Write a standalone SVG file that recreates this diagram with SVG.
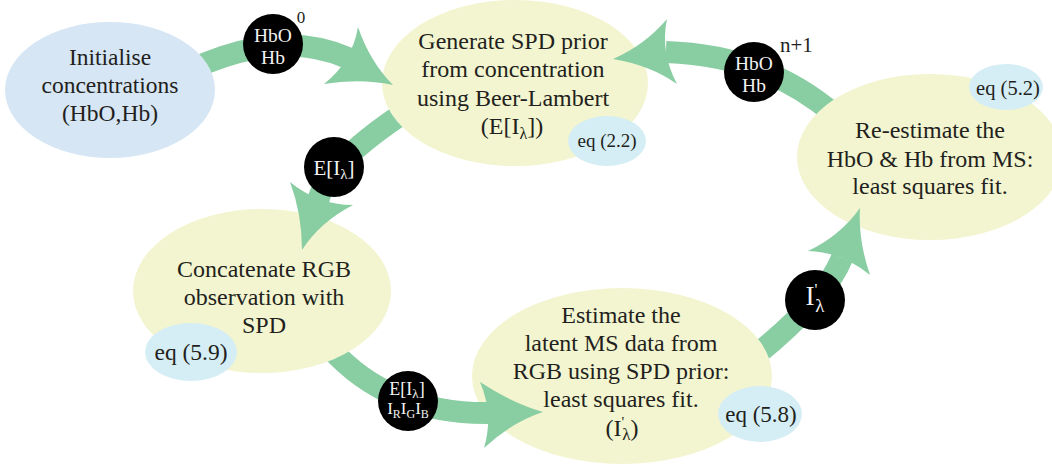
<svg xmlns="http://www.w3.org/2000/svg" width="1052" height="466" viewBox="0 0 1052 466">
<style>
.t{font-family:'Liberation Serif','Times New Roman',Times,'DejaVu Serif',serif;fill:#231f20;text-anchor:middle;font-size:24px}
.w{font-family:'Liberation Serif','Times New Roman',Times,'DejaVu Serif',serif;fill:#f2f2f2;text-anchor:middle}
.y{fill:#f2f5cf}
.b{fill:#d6e6f4}
.e{fill:#d5eef5}
.k{fill:#000}
.shaft{fill:none;stroke:#89cda2;stroke-width:22}
.head{fill:#89cda2}
</style>
<defs>
<clipPath id="cInit"><path clip-rule="evenodd" d="M0 0H1052V466H0Z M5 90a105 68 0 1 0 210 0a105 68 0 1 0 -210 0Z"/></clipPath>
<clipPath id="cGen"><path clip-rule="evenodd" d="M0 0H1052V466H0Z M382 83a133 83 0 1 0 266 0a133 83 0 1 0 -266 0Z"/></clipPath>
<clipPath id="cRe"><path clip-rule="evenodd" d="M0 0H1052V466H0Z M797 157a133 83 0 1 0 266 0a133 83 0 1 0 -266 0Z"/></clipPath>
<clipPath id="cCon"><path clip-rule="evenodd" d="M0 0H1052V466H0Z M133 291a129 82 0 1 0 258 0a129 82 0 1 0 -258 0Z"/></clipPath>
<clipPath id="cEst"><path clip-rule="evenodd" d="M0 0H1052V466H0Z M472 376a150 88 0 1 0 300 0a150 88 0 1 0 -300 0Z"/></clipPath>
</defs>

<g id="node-init">
<ellipse class="b" cx="110" cy="90" rx="105" ry="68"/>
<text class="t" style="font-size:23.5px" x="110" y="65">Initialise</text>
<text class="t" style="font-size:23.5px" x="110" y="93">concentrations</text>
<text class="t" style="font-size:23.5px" x="110" y="121">(HbO,Hb)</text>
</g>

<g id="node-generate">
<ellipse class="y" cx="515" cy="83" rx="133" ry="83"/>
<text class="t" x="513" y="49">Generate SPD prior</text>
<text class="t" x="513" y="77">from concentration</text>
<text class="t" x="513" y="106">using Beer-Lambert</text>
<text class="t" x="512" y="134">(E[I<tspan style="font-size:16px" dy="5">λ</tspan><tspan dy="-5">])</tspan></text>
</g>

<g id="node-reestimate">
<ellipse class="y" cx="930" cy="157" rx="133" ry="83"/>
<text class="t" x="930" y="138">Re-estimate the</text>
<text class="t" x="930" y="167">HbO &amp; Hb from MS:</text>
<text class="t" x="930" y="194">least squares fit.</text>
</g>

<g id="node-concatenate">
<ellipse class="y" cx="262" cy="291" rx="129" ry="82"/>
<text class="t" x="264" y="277">Concatenate RGB</text>
<text class="t" x="264" y="305">observation with</text>
<text class="t" x="264" y="333">SPD</text>
</g>

<g id="node-estimate">
<ellipse class="y" cx="622" cy="376" rx="150" ry="88"/>
<text class="t" x="621" y="323">Estimate the</text>
<text class="t" x="621" y="351">latent MS data from</text>
<text class="t" x="621" y="379">RGB using SPD prior:</text>
<text class="t" x="621" y="407">least squares fit.</text>
<text class="t" x="622" y="436">(I<tspan style="font-size:15px" dy="-9">'</tspan><tspan style="font-size:17px" dx="-2" dy="13">λ</tspan><tspan dy="-4">)</tspan></text>
</g>

<g id="connectors">
<path class="shaft" clip-path="url(#cInit)" d="M190 70Q280 28 348 58"/>
<path class="head" d="M358 27Q370 62 393 85Q360 78 324 84Q352 62 358 27Z"/>
<path class="shaft" clip-path="url(#cGen)" d="M405 112Q325 165 318 202"/>
<path class="head" d="M290 182Q302 214 302 250Q320 222 353 205Q318 205 290 182Z"/>
<path class="shaft" clip-path="url(#cRe)" d="M835 115Q765 55 666 52"/>
<path class="head" d="M667 19Q645 45 613 59Q650 65 677 84Q660 52 667 19Z"/>
<path class="shaft" clip-path="url(#cCon)" d="M330 348Q390 415 492 413"/>
<path class="head" d="M480 382Q512 403 543 412Q512 422 484 448Q494 414 480 382Z"/>
<path class="shaft" clip-path="url(#cEst)" d="M750 360Q825 300 842 258"/>
<path class="head" d="M808 251Q840 236 860 208Q858 240 870 275Q842 252 808 251Z"/>
</g>

<g id="eq-2-2">
<ellipse class="e" cx="607" cy="141" rx="39" ry="25"/>
<text class="t" style="font-size:19px" x="607" y="147">eq (2.2)</text>
</g>
<g id="eq-5-2">
<ellipse class="e" cx="1006" cy="87" rx="37" ry="23"/>
<text class="t" style="font-size:20.5px" x="1008" y="95">eq (5.2)</text>
</g>
<g id="eq-5-9">
<ellipse class="e" cx="191" cy="352" rx="46" ry="29"/>
<text class="t" style="font-size:23.5px" x="191" y="360">eq (5.9)</text>
</g>
<g id="eq-5-8">
<ellipse class="e" cx="760" cy="414" rx="42" ry="28"/>
<text class="t" style="font-size:23px" x="761" y="422">eq (5.8)</text>
</g>

<g id="label-hb0">
<circle class="k" cx="273" cy="44" r="30"/>
<text class="w" style="font-size:19.5px" x="273" y="42">HbO</text>
<text class="w" style="font-size:19.5px" x="273" y="64">Hb</text>
<text class="t" style="font-size:17px" x="301" y="23">0</text>
</g>
<g id="label-e1">
<circle class="k" cx="334" cy="167" r="30"/>
<text class="w" style="font-size:21px" x="334" y="175">E[I<tspan style="font-size:15px" dy="4">λ</tspan><tspan dy="-4">]</tspan></text>
</g>
<g id="label-hbn">
<circle class="k" cx="754" cy="72" r="30"/>
<text class="w" style="font-size:19.5px" x="754" y="70">HbO</text>
<text class="w" style="font-size:19.5px" x="754" y="92">Hb</text>
<text class="t" style="font-size:21px;text-anchor:start" x="780" y="52">n+1</text>
</g>
<g id="label-e2">
<circle class="k" cx="408" cy="401" r="30"/>
<text class="w" style="font-size:18px" x="407" y="395">E[I<tspan style="font-size:13px" dy="3">λ</tspan><tspan dy="-3">]</tspan></text>
<text class="w" style="font-size:17px" x="408" y="414">I<tspan style="font-size:12px" dy="4">R</tspan><tspan dy="-4">I</tspan><tspan style="font-size:12px" dy="4">G</tspan><tspan dy="-4">I</tspan><tspan style="font-size:12px" dy="4">B</tspan></text>
</g>
<g id="label-i">
<circle class="k" cx="815" cy="300" r="30"/>
<text class="w" style="font-size:27px" x="815" y="305">I<tspan style="font-size:16px" dy="-10">'</tspan><tspan style="font-size:19px" dx="-2" dy="17">λ</tspan></text>
</g>
</svg>
